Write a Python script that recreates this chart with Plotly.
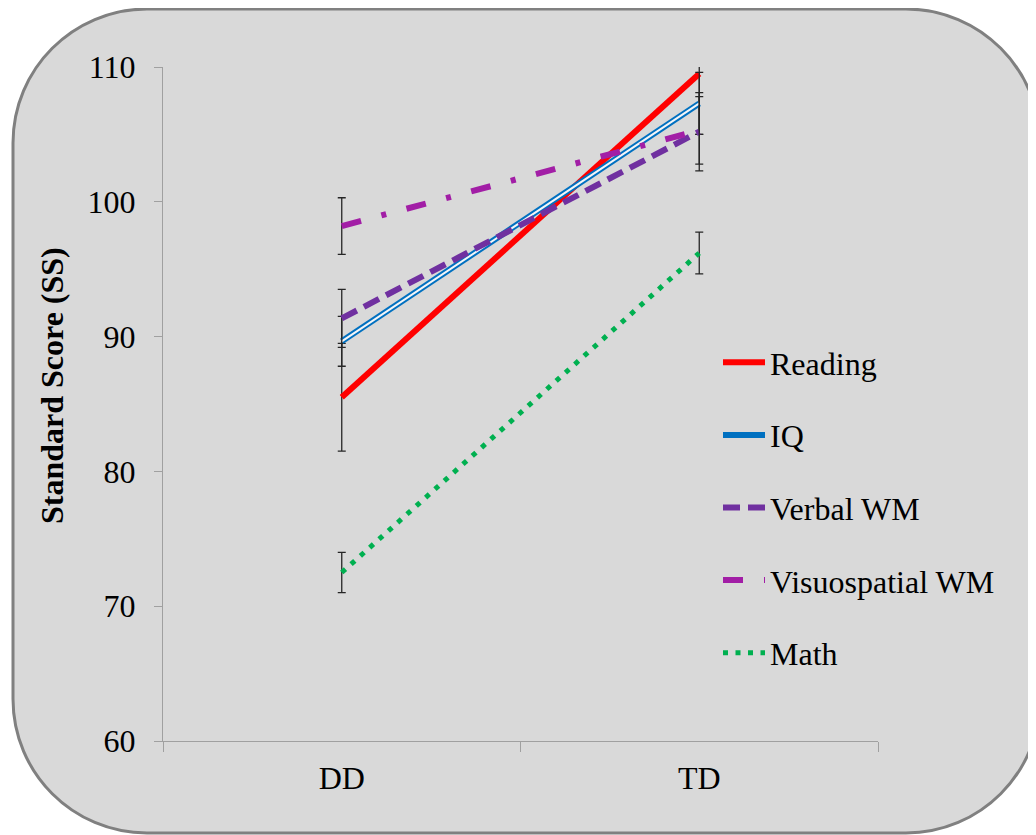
import plotly.graph_objects as go

# ---- data ----
groups = ["DD", "TD"]
reading = [85.5, 109.5]
reading_err = [4.0, 4.5]
iq = [89.65, 107.3]
iq_err = [1.85, 2.3]
verbal_wm = [91.35, 105.2]
verbal_wm_err = [2.15, 2.9]
visuo_wm = [98.2, 105.3]
visuo_wm_err = [2.1, 2.5]
math = [72.5, 96.2]
math_err = [1.5, 1.55]
y_ticks = [60, 70, 80, 90, 100, 110]
y_title = "Standard Score (SS)"

# page body has an 8px margin, so figure coords = screen coords - 8
OFF = 8
W, H = 1036 - OFF, 835 - OFF
L, R, T, B = 163 - OFF, 878 - OFF, 67 - OFF, 741 - OFF
FONT = "Liberation Serif, Times New Roman, serif"
FS = 32


def px(x):
    return (x - OFF - L) / (R - L)


def py(y):
    return (B - (y - OFF)) / (B - T)


def P(x, y):
    return f"{px(x):.5f},{py(y):.5f}"


# rounded rectangle background (screen pixel geometry)
l, r_, t, b, rad = 13, 1040, 9, 833, 134
k = 0.5523 * rad
path = (
    f"M{P(l+rad, t)} L{P(r_-rad, t)} "
    f"C{P(r_-rad+k, t)} {P(r_, t+rad-k)} {P(r_, t+rad)} "
    f"L{P(r_, b-rad)} "
    f"C{P(r_, b-rad+k)} {P(r_-rad+k, b)} {P(r_-rad, b)} "
    f"L{P(l+rad, b)} "
    f"C{P(l+rad-k, b)} {P(l, b-rad+k)} {P(l, b-rad)} "
    f"L{P(l, t+rad)} "
    f"C{P(l, t+rad-k)} {P(l+rad-k, t)} {P(l+rad, t)} Z"
)

err_style = dict(type="data", color="#262626", thickness=1.3, width=4, visible=True)

fig = go.Figure()

fig.add_trace(go.Scatter(
    x=groups, y=reading, name="Reading", mode="lines",
    line=dict(color="#ff0000", width=6),
    error_y=dict(array=reading_err, **err_style),
    legendgroup="a",
))
fig.add_trace(go.Scatter(
    x=groups, y=iq, name="IQ", mode="lines",
    line=dict(color="#0070c0", width=6),
    error_y=dict(array=iq_err, **err_style),
    legendgroup="b",
))
fig.add_trace(go.Scatter(
    x=groups, y=iq, name="IQ", mode="lines", showlegend=False,
    line=dict(color="#f4f6f8", width=2),
    legendgroup="b", hoverinfo="skip",
))
fig.add_trace(go.Scatter(
    x=groups, y=verbal_wm, name="Verbal WM", mode="lines",
    line=dict(color="#7030a0", width=6, dash="17px,8px"),
    error_y=dict(array=verbal_wm_err, **err_style),
    legendgroup="c",
))
fig.add_trace(go.Scatter(
    x=groups, y=visuo_wm, name="Visuospatial WM", mode="lines",
    line=dict(color="#a21ea6", width=6, dash="20px,21px,5px,21px"),
    error_y=dict(array=visuo_wm_err, **err_style),
    legendgroup="d",
))
fig.add_trace(go.Scatter(
    x=groups, y=math, name="Math", mode="lines",
    line=dict(color="#00b050", width=5, dash="5px,7.5px"),
    error_y=dict(array=math_err, **err_style),
    legendgroup="e",
))

fig.update_layout(
    width=W, height=H,
    margin=dict(l=L, r=W - R, t=T, b=H - B, autoexpand=False),
    paper_bgcolor="white",
    plot_bgcolor="rgba(0,0,0,0)",
    font=dict(family=FONT, size=FS, color="black"),
    shapes=[dict(type="path", path=path, xref="paper", yref="paper",
                 fillcolor="#d9d9d9", line=dict(color="#808080", width=3),
                 layer="below")],
    annotations=[dict(text=f"<b>{y_title}</b>", textangle=-90,
                      xref="paper", yref="paper", x=px(52), y=py(385),
                      xanchor="center", yanchor="middle", showarrow=False,
                      font=dict(family=FONT, size=FS, color="black"))],
    legend=dict(
        x=px(718), y=py(335), xanchor="left", yanchor="top",
        bgcolor="rgba(0,0,0,0)", font=dict(family=FONT, size=FS),
        tracegroupgap=28, traceorder="grouped", itemwidth=42,
    ),
    xaxis=dict(
        type="category", categoryorder="array", categoryarray=groups,
        range=[-0.5, 1.5], showline=True, linecolor="#a0a0a0", linewidth=1,
        ticks="outside", tickson="boundaries", ticklen=10, tickcolor="#a0a0a0",
        showgrid=False, zeroline=False, ticklabelstandoff=9,
        tickfont=dict(family=FONT, size=FS),
    ),
    yaxis=dict(
        range=[60, 110], tickvals=y_ticks, showline=True, linecolor="#a0a0a0",
        linewidth=1, ticks="outside", ticklen=8, tickcolor="#a0a0a0",
        showgrid=False, zeroline=False, ticklabelstandoff=12,
        tickfont=dict(family=FONT, size=FS),
    ),
)

fig.write_html("out.html")
